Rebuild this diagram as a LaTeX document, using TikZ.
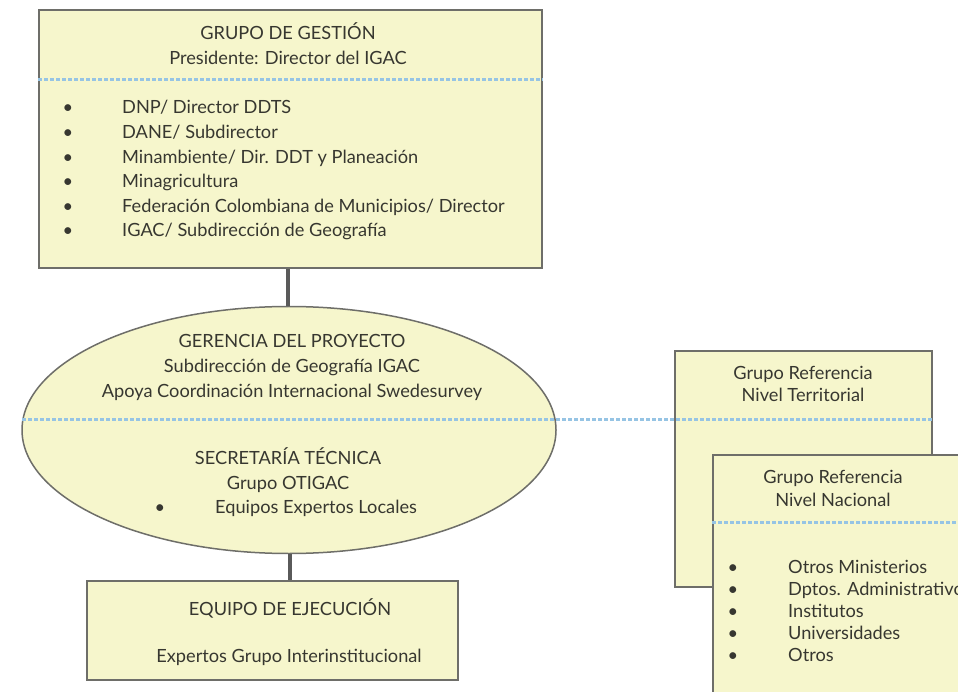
\documentclass[tikz,border=0pt]{standalone}
\usepackage{fontspec}
\setmainfont{Lato}
\usetikzlibrary{shapes.geometric}
\definecolor{boxfill}{RGB}{246,246,204}
\definecolor{boxline}{RGB}{110,110,105}
\definecolor{dotblue}{RGB}{150,196,228}
\definecolor{txt}{RGB}{55,55,48}
\definecolor{conn}{RGB}{90,90,90}
\tikzset{
  box/.style={draw=boxline, fill=boxfill, line width=1.5pt, inner sep=0pt},
  oval/.style={ellipse, draw=boxline, fill=boxfill, line width=1.5pt, inner sep=0pt},
  lbl/.style={text=txt, font=\fontsize{18.2}{21}\selectfont, inner sep=0pt, anchor=base},
  item/.style={lbl, anchor=base west},
  bul/.style={lbl},
  dotline/.style={draw=dotblue, line width=3pt, dash pattern=on 3.5pt off 2.5pt},
  connector/.style={draw=conn, line width=3.5pt}
}
\begin{document}
\begin{tikzpicture}[x=1pt,y=-1pt]
\useasboundingbox (0,0) rectangle (958,692);
\clip (0,0) rectangle (958,692);
\fill[white] (0,0) rectangle (958,692);

% Top box
\node[box, minimum width=503pt, minimum height=258pt] (gestion) at (290.5,139) {};
\draw[dotline] (gestion.west |- 0,80) coordinate (g1) -- (gestion.east |- 0,80) coordinate (g2);
\node[lbl] (g-t1) at (288,40) {GRUPO DE GESTIÓN};
\node[lbl] (g-t2) at (288,65) {Presidente: Director del IGAC};
\foreach \t [count=\i] in {DNP/ Director DDTS, DANE/ Subdirector, Minambiente/ Dir. DDT y Planeación, Minagricultura, Federación Colombiana de Municipios/ Director, IGAC/ Subdirección de Geografía}{
  \node[bul] (g-b\i) at (68,{114+24.6*(\i-1)}) {•};
  \node[item] (g-i\i) at (122,{114+24.6*(\i-1)}) {\t};
}

% Ellipse
\node[oval, minimum width=534pt, minimum height=247pt] (ger) at (289,430) {};
\node[lbl] (e-t1) at (292,348) {GERENCIA DEL PROYECTO};
\node[lbl] (e-t2) at (292,373) {Subdirección de Geografía IGAC};
\node[lbl] (e-t3) at (292,397) {Apoya Coordinación Internacional Swedesurvey};
\node[lbl] (e-t4) at (288,464) {SECRETARÍA TÉCNICA};
\node[lbl] (e-t5) at (288,489) {Grupo OTIGAC};
\node[bul] (e-b1) at (160,513) {•};
\node[item] (e-i1) at (215,513) {Equipos Expertos Locales};

% Bottom box
\node[box, minimum width=371pt, minimum height=99pt] (ejec) at (272.5,630.5) {};
\node[lbl] (x-t1) at (290,615) {EQUIPO DE EJECUCIÓN};
\node[lbl] (x-t2) at (289,662) {Expertos Grupo Interinstitucional};

% Territorial box
\node[box, minimum width=257pt, minimum height=236pt] (terr) at (803.5,469) {};
\node[lbl] (t-t1) at (803,379) {Grupo Referencia};
\node[lbl] (t-t2) at (803,401) {Nivel Territorial};

% Connectors
\draw[connector] (gestion.south -| 288,0) -- (ger.north -| 288,0);
\draw[connector] (ger.south -| 290,0) -- (ejec.north -| 290,0);
\coordinate (dl) at ([xshift=1pt]ger.west |- 0,419);
\draw[dotline] (dl) -- (terr.east |- dl);

% Nacional box
\node[box, minimum width=290pt, minimum height=265pt] (nac) at (858,587.5) {};
\draw[dotline] (nac.west |- 0,522) -- (nac.east |- 0,522);
\node[lbl] (n-t1) at (833,483) {Grupo Referencia};
\node[lbl] (n-t2) at (833,506) {Nivel Nacional};
\foreach \t [count=\i] in {Otros Ministerios, Dptos. Administrativos, Institutos, Universidades, Otros}{
  \node[bul] (n-b\i) at (733,{573+22*(\i-1)}) {•};
  \node[item] (n-i\i) at (788,{573+22*(\i-1)}) {\t};
}
\end{tikzpicture}
\end{document}
